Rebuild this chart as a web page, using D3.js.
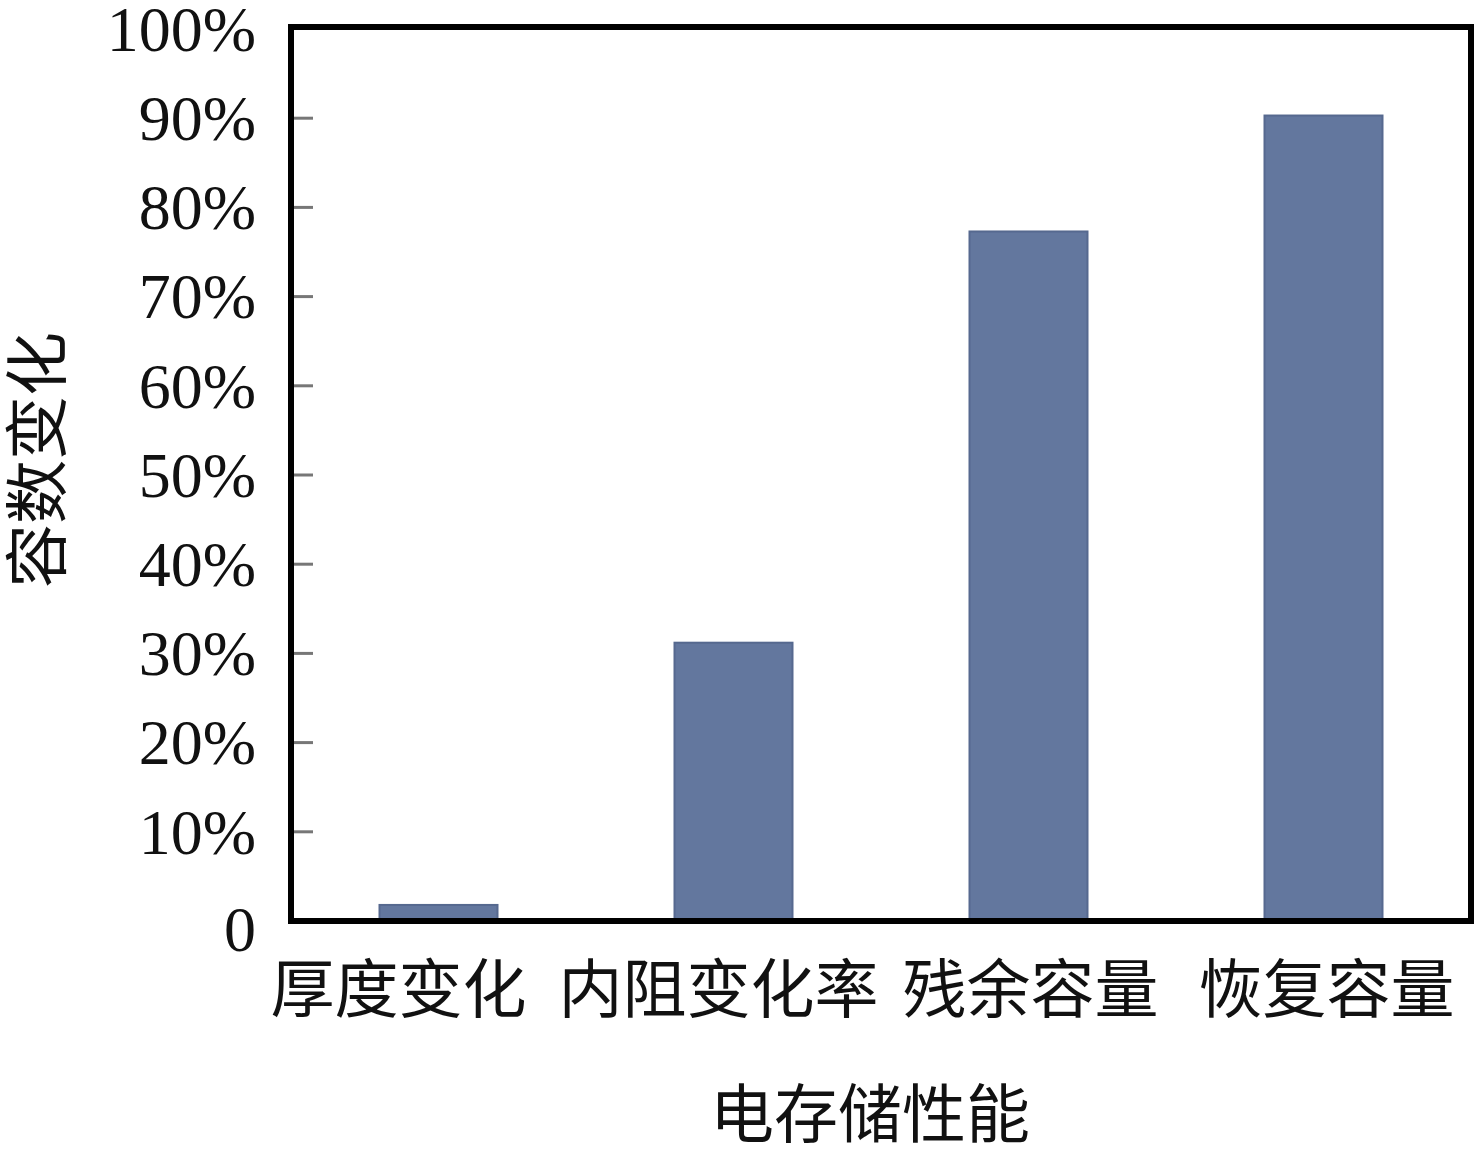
<!DOCTYPE html>
<html>
<head>
<meta charset="utf-8">
<script src="https://d3js.org/d3.v7.min.js"></script>
<style>
body { margin: 0; background: #fff; }
.cn { font-family: "Noto Sans CJK SC", sans-serif; font-size: 64px; fill: #111; }
.num { font-family: "Liberation Serif", "Times New Roman", serif; font-size: 64px; fill: #111; }
</style>
</head>
<body>
<svg width="1484" height="1149"></svg>
<script>
// data
var categories = ["厚度变化", "内阻变化率", "残余容量", "恢复容量"];
var values = [0.018, 0.312, 0.773, 0.903];
var yTicks = [0, 0.1, 0.2, 0.3, 0.4, 0.5, 0.6, 0.7, 0.8, 0.9, 1.0];

var plotLeft = 291, plotRight = 1471, plotTop = 29, plotBottom = 921;
var svg = d3.select("svg");

var x = d3.scaleBand().domain(categories).range([plotLeft, plotRight]).paddingInner(0.6).paddingOuter(0.3);
var y = d3.scaleLinear().domain([0, 1]).range([plotBottom, plotTop]);

// bars
svg.append("g").selectAll("rect")
  .data(values)
  .enter().append("rect")
  .attr("x", function(d, i) { return x(categories[i]); })
  .attr("y", function(d) { return y(d); })
  .attr("width", x.bandwidth())
  .attr("height", function(d) { return y(0) - y(d); })
  .attr("fill", "#63779e")
  .attr("stroke", "#56698f")
  .attr("stroke-width", 2);

// inward ticks on the left axis
svg.append("g").selectAll("line")
  .data(yTicks.slice(1, -1))
  .enter().append("line")
  .attr("x1", plotLeft + 3).attr("x2", plotLeft + 22)
  .attr("y1", function(d) { return y(d); })
  .attr("y2", function(d) { return y(d); })
  .attr("stroke", "#777").attr("stroke-width", 3);

// frame
svg.append("rect")
  .attr("x", plotLeft).attr("y", plotTop - 2)
  .attr("width", plotRight - plotLeft).attr("height", plotBottom - plotTop + 2)
  .attr("fill", "none").attr("stroke", "#000").attr("stroke-width", 6);

// y tick labels
svg.append("g").selectAll("text")
  .data(yTicks)
  .enter().append("text")
  .attr("class", "num")
  .attr("x", 256)
  .attr("y", function(d) { return y(d) + (d === 0 ? 8 : 0); })
  .attr("dy", "0.34em")
  .attr("text-anchor", "end")
  .text(function(d) { return d === 0 ? "0" : Math.round(d * 100) + "%"; });

// x category labels
var xOffsets = [-40, -15, 2, 3];
svg.append("g").selectAll("text")
  .data(categories)
  .enter().append("text")
  .attr("class", "cn")
  .attr("x", function(d, i) { return x(d) + x.bandwidth() / 2 + xOffsets[i]; })
  .attr("y", 1012)
  .attr("text-anchor", "middle")
  .text(function(d) { return d; });

// axis titles
svg.append("text")
  .attr("class", "cn")
  .attr("x", 870).attr("y", 1137)
  .attr("text-anchor", "middle")
  .text("电存储性能");

svg.append("text")
  .attr("class", "cn")
  .attr("transform", "translate(60,460) rotate(-90)")
  .attr("text-anchor", "middle")
  .text("容数变化");
</script>
</body>
</html>
